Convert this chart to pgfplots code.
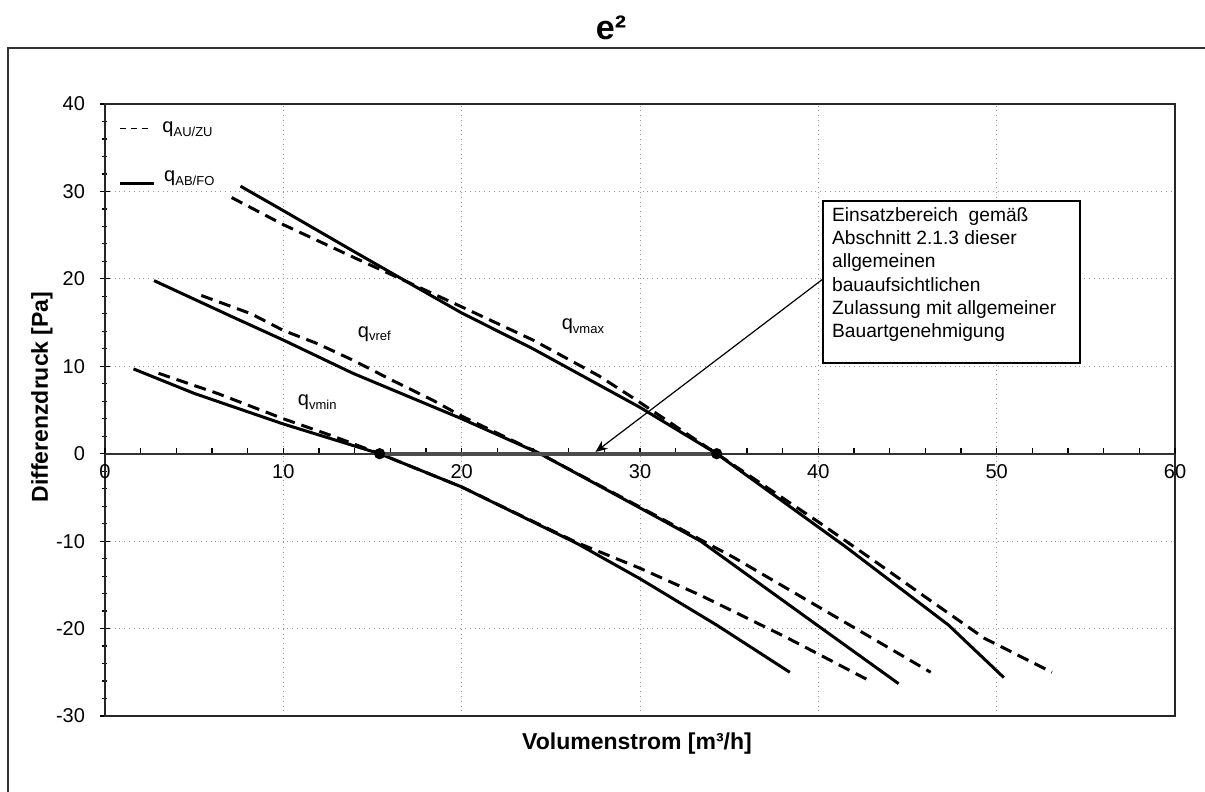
\documentclass[border=0pt]{standalone}
\usepackage{fontspec}
\setmainfont{Liberation Sans}
\usepackage{pgfplots}
\pgfplotsset{compat=1.18}
\usetikzlibrary{arrows.meta}

\newcommand{\qsub}[1]{{\fontsize{10}{12}\selectfont q\raisebox{-0.35ex}{\fontsize{6.5}{8}\selectfont #1}}}

\begin{document}
\begin{tikzpicture}
\useasboundingbox (-52.5pt,-38pt) rectangle (550pt,358pt);
\draw[line width=1pt, black!80] (-48.5pt,-40pt) -- (-48.5pt,334pt) -- (552pt,334pt);
\node[anchor=base, font=\bfseries\fontsize{17}{20}\selectfont] at (253pt,338pt) {e²};

\begin{axis}[
  at={(0pt,0pt)}, anchor=south west,
  scale only axis, width=535pt, height=306pt,
  xmin=0, xmax=60, ymin=-30, ymax=40,
  xtick={0,10,...,60}, xticklabels={},
  xtick style={draw=none},
  ytick={-30,-20,...,40}, minor y tick num=4,
  ytick pos=left,
  ytick style={black, line width=0.6pt},
  grid=major,
  major grid style={dotted, gray!80, line width=0.5pt},
  tick align=center, major tick length=5pt, minor tick length=2.5pt,
  axis line style={line width=1pt, black!85},
  yticklabel style={font=\fontsize{10}{12}\selectfont, xshift=-4pt},
  /pgf/number format/assume math mode=true,
  clip=false,
]
% q_AB/FO (solid)
\addplot[black, line width=1.5pt] coordinates {(1.6,9.7) (5.0,6.9) (10,3.4) (15.4,0) (20,-3.8) (26.5,-10.3) (30,-14.3) (34.3,-19.6) (38.4,-25.0)};
\addplot[black, line width=1.5pt] coordinates {(2.75,19.8) (7.2,15.6) (10,13.0) (13.9,9.2) (20,4.0) (24.4,0) (30,-6.2) (33.4,-10.0) (40.2,-20.0) (44.5,-26.3)};
\addplot[black, line width=1.5pt] coordinates {(7.6,30.6) (10,27.8) (13.9,23.2) (16.9,19.7) (20,16.1) (24,12.0) (30,5.3) (34.3,0) (41.5,-10.6) (47.3,-19.6) (50.4,-25.6)};
% q_AU/ZU (dashed)
\addplot[black, line width=1.5pt, dash pattern=on 6pt off 3.5pt] coordinates {(3.0,9.2) (6.3,6.9) (10,4.0) (12.8,2.0) (15.4,0) (20,-3.8) (26.5,-10.2) (30,-13.1) (33.4,-16.2) (38.2,-21.0) (42.9,-26.0)};
\addplot[black, line width=1.5pt, dash pattern=on 6pt off 3.5pt] coordinates {(5.4,18.1) (8.2,16.0) (10,14.1) (11.9,12.6) (13.9,10.7) (16.1,8.4) (18.4,6.1) (20,4.3) (24.4,0) (30,-6.1) (34,-10.5) (35.2,-11.8) (40.5,-18.1) (46.3,-25.0)};
\addplot[black, line width=1.5pt, dash pattern=on 6pt off 3.5pt] coordinates {(7.1,29.3) (10,26.2) (13.9,22.5) (16.9,19.7) (20,16.8) (24,13.0) (27.7,8.9) (29.6,6.4) (34.3,0) (40,-7.8) (43.2,-12.35) (46.25,-16.75) (49.3,-21.1) (53.1,-25.0)};
% legend
\draw[black, line width=0.9pt, dash pattern=on 3pt off 2.5pt] (axis cs:0.84,37.2) -- (axis cs:2.6,37.2);
\node[anchor=west, inner sep=0pt] at (axis cs:3.2,37.1) {\qsub{AU/ZU}};
\draw[black, line width=1.5pt] (axis cs:0.84,30.9) -- (axis cs:2.75,30.9);
\node[anchor=west, inner sep=0pt] at (axis cs:3.3,31.5) {\qsub{AB/FO}};
% curve labels
\node at (axis cs:26.8,14.6) {\qsub{vmax}};
\node at (axis cs:15.1,13.7) {\qsub{vref}};
\node at (axis cs:11.9,5.9) {\qsub{vmin}};
\end{axis}

\begin{axis}[
  at={(0pt,0pt)}, anchor=south west,
  scale only axis, width=535pt, height=306pt,
  xmin=0, xmax=60, ymin=-30, ymax=40,
  axis x line=middle, axis y line=none,
  axis line style={-, line width=1pt, black!80},
  xtick={0,10,...,60}, minor x tick num=4,
  tick align=inside, major tick length=3pt, minor tick length=3pt,
  xtick style={black, line width=0.6pt},
  xticklabel style={font=\fontsize{10}{12}\selectfont, yshift=-2pt},
  hide obscured x ticks=false,
  /pgf/number format/assume math mode=true,
  clip=false,
]
\addplot[gray!60!black, line width=2pt] coordinates {(15.4,0) (34.3,0)};
\addplot[only marks, mark=*, mark size=2.6pt, black] coordinates {(15.4,0) (34.3,0)};
\draw[black, line width=0.6pt, -{Stealth[length=6pt,width=5pt]}] (axis cs:40.27,20.0) -- (axis cs:27.5,0.2);
\draw[black, line width=0.8pt, fill=white] (axis cs:40.27,28.93) rectangle (axis cs:54.66,10.38);
\node[anchor=north west, inner sep=0pt, align=left, font=\fontsize{9.6}{11.6}\selectfont] at (axis cs:40.75,28.2)
 {Einsatzbereich\ \ gemäß\\Abschnitt 2.1.3 dieser\\allgemeinen\\bauaufsichtlichen\\Zulassung mit allgemeiner\\Bauartgenehmigung};
\end{axis}

\node[font=\bfseries\fontsize{11.5}{14}\selectfont] at (266pt,-14pt) {Volumenstrom [m³/h]};
\node[rotate=90, font=\bfseries\fontsize{11.5}{14}\selectfont] at (-31.5pt,159.5pt) {Differenzdruck [Pa]};
\end{tikzpicture}
\end{document}
